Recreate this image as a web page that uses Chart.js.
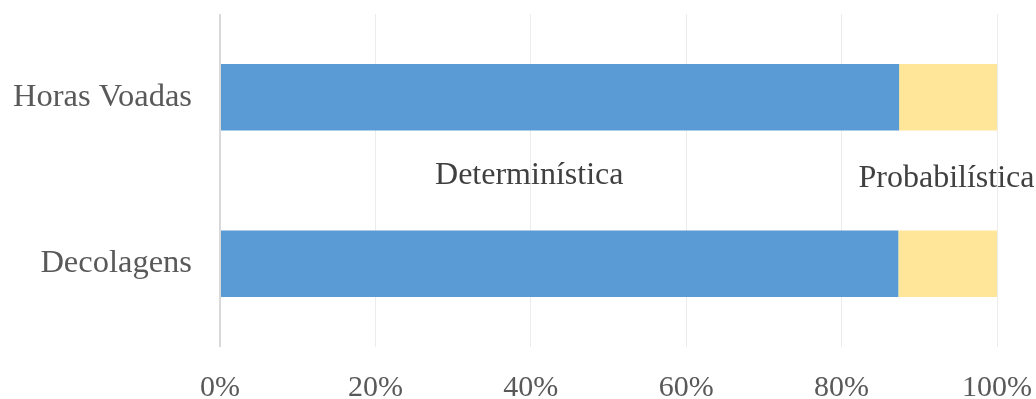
<!DOCTYPE html>
<html lang="pt">
<head>
    <meta charset="UTF-8">
    <title>Determinística x Probabilística</title>
    <script src="https://cdn.jsdelivr.net/npm/chart.js"></script>
    <style>
        html, body {
            margin: 0;
            padding: 0;
            background: #ffffff;
        }
        #chart-container {
            position: relative;
            width: 1036px;
            height: 399px;
        }
    </style>
</head>
<body>
    <div id="chart-container">
        <canvas id="shareChart"></canvas>
    </div>

    <script>
        const categories = ['Horas Voadas', 'Decolagens'];
        const seriesNames = ['Determinística', 'Probabilística'];
        const deterministica = [87.4, 87.3];
        const probabilistica = [12.6, 12.7];
        const tickValues = [0, 20, 40, 60, 80, 100];

        const serif = '"Liberation Serif", "Times New Roman", serif';

        // series names written inside the plot, between the two bars
        const seriesLabels = {
            id: 'seriesLabels',
            afterDatasetsDraw(chart, args, opts) {
                const ctx = chart.ctx;
                const x = chart.scales.x;
                const y = chart.scales.y;
                const mid = y.getPixelForValue(0.5);
                ctx.save();
                ctx.font = '32px ' + serif;
                ctx.fillStyle = '#404040';
                ctx.textAlign = 'center';
                ctx.textBaseline = 'middle';
                chart.data.datasets.forEach((ds, i) => {
                    ctx.fillText(ds.label, x.getPixelForValue(opts.at[i]), mid + opts.dy[i]);
                });
                ctx.restore();
            }
        };

        const ctx = document.getElementById('shareChart').getContext('2d');
        new Chart(ctx, {
            type: 'bar',
            data: {
                labels: categories,
                datasets: [
                    {
                        label: seriesNames[0],
                        data: deterministica,
                        backgroundColor: '#5B9BD5'
                    },
                    {
                        label: seriesNames[1],
                        data: probabilistica,
                        backgroundColor: '#FFE699'
                    }
                ]
            },
            options: {
                indexAxis: 'y',
                responsive: true,
                maintainAspectRatio: false,
                animation: false,
                datasets: {
                    bar: {
                        categoryPercentage: 0.8,
                        barPercentage: 0.5,
                        borderWidth: 0
                    }
                },
                layout: {
                    padding: { top: 14, right: 39, left: 0, bottom: 0 }
                },
                scales: {
                    x: {
                        stacked: true,
                        min: 0,
                        max: 100,
                        afterBuildTicks: (scale) => {
                            scale.ticks = tickValues.map(v => ({ value: v }));
                        },
                        afterFit: (scale) => {
                            scale.height = 52;
                            scale.paddingLeft = 0;
                            scale.paddingRight = 0;
                        },
                        border: { display: false },
                        grid: {
                            drawTicks: false,
                            color: (c) => c.index === 0 ? '#d9d9d9' : '#ececec',
                            lineWidth: (c) => c.index === 0 ? 2 : 1
                        },
                        ticks: {
                            padding: 23,
                            color: '#595959',
                            font: { family: serif, size: 30 },
                            callback: (v) => v + '%'
                        }
                    },
                    y: {
                        stacked: true,
                        afterFit: (scale) => {
                            scale.width = 220;
                            scale.paddingTop = 0;
                            scale.paddingBottom = 0;
                        },
                        border: { display: false },
                        grid: { display: false, drawTicks: false },
                        ticks: {
                            padding: 28,
                            color: '#595959',
                            font: { family: serif, size: 32.5 }
                        }
                    }
                },
                plugins: {
                    legend: { display: false },
                    tooltip: { enabled: false },
                    seriesLabels: {
                        at: [39.8, 93.5],
                        dy: [-5, -2]
                    }
                }
            },
            plugins: [seriesLabels]
        });
    </script>
</body>
</html>
